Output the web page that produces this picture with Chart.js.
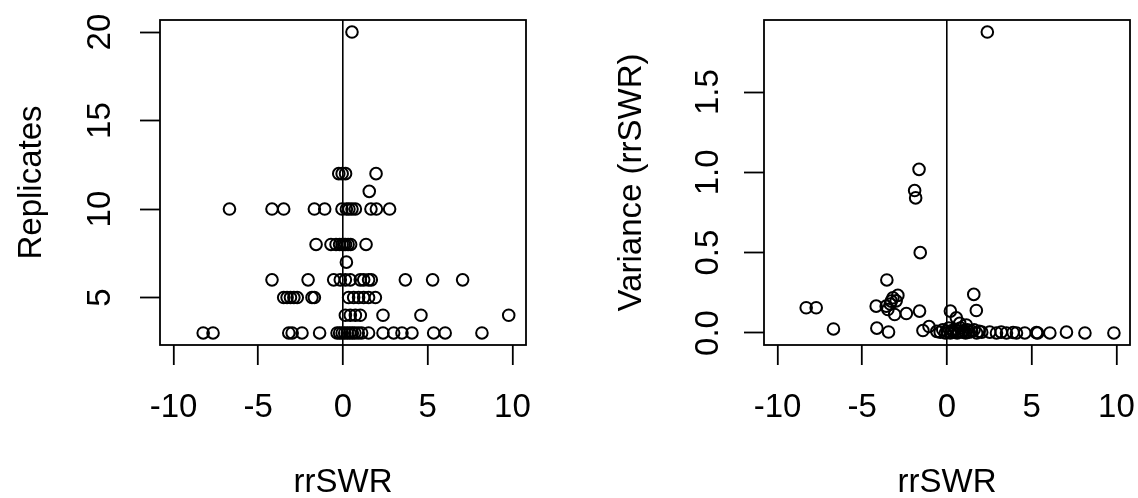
<!DOCTYPE html>
<html lang="en">
<head>
<meta charset="UTF-8">
<title>rrSWR</title>
<script src="https://cdn.jsdelivr.net/npm/chart.js"></script>
<style>
  html, body { margin: 0; padding: 0; background: #fff; overflow: hidden; }
  canvas { position: absolute; top: 0; }
  #left { left: 0; }
  #right { left: 569px; }
</style>
</head>
<body>
<canvas id="left" width="569" height="498"></canvas>
<canvas id="right" width="569" height="498"></canvas>
<script>
// ticks / limits
const xTicks = [-10, -5, 0, 5, 10];
const repTicks = [5, 10, 15, 20];
const varTicks = [0, 0.5, 1, 1.5];
const xLim = [-10, 10];

// left panel: rrSWR vs replicates (row by row)
const repSWR = [
  0.53,
  -0.25, -0.05, 0.15, 1.95,
  1.55,
  -6.7, -4.19, -3.5, -1.69, -1.08, -0.06, 0.2, 0.35, 0.53, 0.73, 1.65, 1.97, 2.75,
  -1.59, -0.71, -0.41, -0.2, -0.05, 0.05, 0.15, 0.3, 0.45, 1.36,
  0.2,
  -4.19, -2.06, -0.55, -0.16, 0.14, 0.43, 1.02, 1.22, 1.51, 1.67, 3.68, 5.29, 7.06,
  -3.5, -3.3, -3.1, -2.9, -2.7, -1.83, -1.69, 0.33, 0.63, 0.92, 1.22, 1.51, 1.91,
  0.14, 0.43, 0.73, 1.02, 2.36, 4.6, 9.78,
  -8.25, -7.67, -3.2, -3.0, -2.42, -1.38, -0.35, -0.2, -0.05, 0.1, 0.25, 0.4, 0.55, 0.7, 0.9, 1.1, 1.51, 2.36, 2.99, 3.48, 4.07, 5.35, 6.03, 8.2
];
const repCount = [
  20,
  12, 12, 12, 12,
  11,
  10, 10, 10, 10, 10, 10, 10, 10, 10, 10, 10, 10, 10,
  8, 8, 8, 8, 8, 8, 8, 8, 8, 8,
  7,
  6, 6, 6, 6, 6, 6, 6, 6, 6, 6, 6, 6, 6,
  5, 5, 5, 5, 5, 5, 5, 5, 5, 5, 5, 5, 5,
  4, 4, 4, 4, 4, 4, 4,
  3, 3, 3, 3, 3, 3, 3, 3, 3, 3, 3, 3, 3, 3, 3, 3, 3, 3, 3, 3, 3, 3, 3, 3
];

// right panel: rrSWR vs variance
const varSWR = [
  2.38, -1.65, -1.91, -1.85, -1.58, -3.55,
  -3.19, -2.9, -3.29, -3.59, -3.49, -3.09, -4.18, -2.4, -1.62, -3.35, -3.0,
  -8.31, -7.72, -6.7, -4.14, -3.45, -1.42, -1.06,
  0.2, 0.55, 1.58, 1.73, 1.14, 0.75,
  -0.6, -0.4, -0.25, -0.1, 0, 0.1, 0.2, 0.3, 0.4, 0.5, 0.6, 0.7, 0.8, 0.9, 1.0, 1.1, 1.2, 1.3, 1.45, 1.6, 1.75, 1.9, 2.05,
  2.52, 2.92, 3.2, 3.51, 3.9, 4.1, 4.59, 5.28, 5.35, 6.07, 7.05, 8.14, 9.85
];
const varValue = [
  1.874, 1.019, 0.887, 0.841, 0.50, 0.33,
  0.219, 0.234, 0.198, 0.167, 0.146, 0.115, 0.167, 0.121, 0.136, 0.18, 0.2,
  0.157, 0.157, 0.025, 0.03, 0.006, 0.015, 0.04,
  0.136, 0.094, 0.24, 0.14, 0.05, 0.06,
  0.01, 0.005, 0.02, 0, 0.01, 0.03, 0, 0.015, 0.005, 0.02, 0, 0.01, 0.03, 0.005, 0.015, 0, 0.02, 0.005, 0.01, 0.02, 0, 0.01, 0.005,
  0.005, 0, 0.005, 0, 0.003, 0, 0, 0.002, 0, 0, 0.005, 0, 0
];

const FONT = 'Liberation Sans, Arial, Helvetica, sans-serif';
const FS = 33;
const H = 498;

// R style axis range: data range stretched by 4% on each side
function rRange(v) {
  const lo = Math.min(...v), hi = Math.max(...v);
  const d = (hi - lo) * 0.04;
  return [lo - d, hi + d];
}

const boxPlugin = {
  id: 'rbox',
  afterDraw(chart) {
    const a = chart.chartArea, ctx = chart.ctx;
    ctx.save();
    ctx.strokeStyle = '#000';
    ctx.lineWidth = 1.8;
    ctx.strokeRect(a.left, a.top, a.right - a.left, a.bottom - a.top);
    ctx.restore();
  }
};

function makeChart(id, xs, ys, yTicks, yFmt, yTitle, area, yPad, titlePad) {
  const xr = rRange(xLim);
  const yr = rRange(ys);
  const pts = xs.map((x, i) => ({ x: x, y: ys[i] }));
  return new Chart(document.getElementById(id), {
    type: 'scatter',
    data: {
      datasets: [{
        data: pts,
        pointRadius: 5.8,
        pointHoverRadius: 5.8,
        borderWidth: 2,
        borderColor: '#000',
        backgroundColor: 'rgba(0,0,0,0)'
      }]
    },
    options: {
      responsive: false,
      animation: false,
      events: [],
      layout: { padding: { left: 0, top: area.top, right: 569 - area.right, bottom: 0 } },
      plugins: { legend: { display: false }, tooltip: { enabled: false } },
      scales: {
        x: {
          type: 'linear',
          min: xr[0], max: xr[1],
          afterBuildTicks: s => { s.ticks = xTicks.map(v => ({ value: v })); },
          afterFit: s => { s.height = H - area.bottom; s.paddingLeft = 0; s.paddingRight = 0; },
          grid: {
            color: c => (c.tick && c.tick.value === 0) ? '#000' : 'rgba(0,0,0,0)',
            lineWidth: 1.6,
            tickLength: 20, tickColor: '#000', tickWidth: 1.8
          },
          border: { display: false },
          ticks: { color: '#000', font: { family: FONT, size: FS }, padding: 23, maxRotation: 0, autoSkip: false },
          title: { display: true, text: 'rrSWR', color: '#000', font: { family: FONT, size: FS }, padding: { top: 0, bottom: -5 } }
        },
        y: {
          type: 'linear',
          min: yr[0], max: yr[1],
          afterBuildTicks: s => { s.ticks = yTicks.map(v => ({ value: v })); },
          afterFit: s => { s.width = area.left; s.paddingTop = 0; s.paddingBottom = 0; },
          grid: { color: 'rgba(0,0,0,0)', tickLength: 20, tickColor: '#000', tickWidth: 1.8 },
          border: { display: false },
          ticks: {
            color: '#000', font: { family: FONT, size: FS },
            minRotation: 90, maxRotation: 90, crossAlign: 'center',
            padding: yPad, autoSkip: false,
            callback: v => yFmt(v)
          },
          title: { display: true, text: yTitle, color: '#000', font: { family: FONT, size: FS }, padding: { top: titlePad, bottom: 0 } }
        }
      }
    },
    plugins: [boxPlugin]
  });
}

makeChart('left', repSWR, repCount, repTicks, v => String(v), 'Replicates',
  { left: 160, right: 526, top: 20, bottom: 345 }, 21, 12);
makeChart('right', varSWR, varValue, varTicks, v => v.toFixed(1), 'Variance (rrSWR)',
  { left: 195, right: 561, top: 20, bottom: 345 }, 12, 43);
</script>
</body>
</html>
